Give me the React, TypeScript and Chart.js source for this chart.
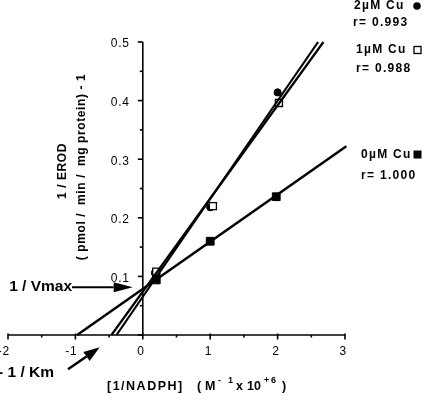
import React, { useEffect, useRef } from "react";
import { Chart, registerables } from "chart.js";

Chart.register(...registerables);

// ---- data ----
const cu0X = [0.2, 1.0, 1.98];
const cu0Y = [0.094, 0.16, 0.236];
const cu1X = [0.2, 1.04, 2.02];
const cu1Y = [0.108, 0.22, 0.396];
const cu2X = [0.18, 1.0, 2.0];
const cu2Y = [0.106, 0.218, 0.414];

// regression line end points
const fit0X = [-0.975, 3.02];
const fit0Y = [0, 0.322];
const fit1X = [-0.465, 2.68];
const fit1Y = [0, 0.5];
const fit2X = [-0.39, 2.6];
const fit2Y = [0, 0.5];

const seriesNames = ["2µM Cu", "1µM Cu", "0µM Cu"];
const rValues = ["r= 0.993", "r= 0.988", "r= 1.000"];

const xTickValues = [-2, -1, 0, 1, 2, 3];
const xTickLabels = ["-2", "-1", "0", "1", "2", "3"];
const yTickValues = [0.1, 0.2, 0.3, 0.4, 0.5];
const yTickLabels = ["0.1", "0.2", "0.3", "0.4", "0.5"];

const yTitle1 = "1 / EROD";
const yTitle2 = "( pmol /  min /  mg protein) - 1";
const vmaxLabel = "1 / Vmax";
const kmLabel = "- 1 / Km";
const xTitleMain = "[1/NADPH]";
// x-title unit pieces: text, superscript?
const xTitleUnit: [string, boolean][] = [
  ["(", false],
  ["M", false],
  ["-", true],
  ["1", true],
  ["x", false],
  ["1", false],
  ["0", false],
  ["+", true],
  ["6", true],
  [")", false],
];

// annotation anchors (data coordinates)
const vmaxArrowFrom = { x: -1.05, y: 0.0815 };
const vmaxArrowTo = { x: -0.15, y: 0.0815 };
const kmArrowFrom = { x: -1.11, y: -0.0586 };
const kmArrowTo = { x: -0.64, y: -0.021 };

const FONT = '"Liberation Sans", Arial, Helvetica, sans-serif';

const pts = (xs: number[], ys: number[]) => xs.map((v, i) => ({ x: v, y: ys[i] }));

function arrow(ctx: CanvasRenderingContext2D, x1: number, y1: number, x2: number, y2: number, headLen: number, headHalf: number, lw: number) {
  const ang = Math.atan2(y2 - y1, x2 - x1);
  const bx = x2 - headLen * Math.cos(ang);
  const by = y2 - headLen * Math.sin(ang);
  ctx.lineWidth = lw;
  ctx.beginPath();
  ctx.moveTo(x1, y1);
  ctx.lineTo(bx, by);
  ctx.stroke();
  ctx.beginPath();
  ctx.moveTo(x2, y2);
  ctx.lineTo(bx + headHalf * Math.sin(ang), by - headHalf * Math.cos(ang));
  ctx.lineTo(bx - headHalf * Math.sin(ang), by + headHalf * Math.cos(ang));
  ctx.closePath();
  ctx.fill();
}

const drawPlugin = {
  id: "lwbAxes",
  beforeDatasetsDraw(chart: any) {
    const { ctx } = chart;
    const xs = chart.scales.x;
    const ys = chart.scales.y;
    const x0 = xs.getPixelForValue(0);
    const y0 = ys.getPixelForValue(0);
    ctx.save();
    ctx.strokeStyle = "#000";
    ctx.fillStyle = "#000";
    ctx.lineWidth = 1.6;
    // y axis
    ctx.beginPath();
    ctx.moveTo(x0, y0);
    ctx.lineTo(x0, ys.getPixelForValue(0.5));
    ctx.stroke();
    for (let i = 0; i <= 10; i++) {
      const py = ys.getPixelForValue(i * 0.05);
      const major = i % 2 === 0;
      ctx.beginPath();
      ctx.moveTo(x0 - (major ? 5 : 3), py);
      ctx.lineTo(x0, py);
      ctx.stroke();
    }
    // x axis
    ctx.beginPath();
    ctx.moveTo(xs.getPixelForValue(-2), y0);
    ctx.lineTo(xs.getPixelForValue(3), y0);
    ctx.stroke();
    for (let i = 0; i <= 10; i++) {
      const px = xs.getPixelForValue(-2 + i * 0.5);
      const major = i % 2 === 0;
      ctx.beginPath();
      ctx.moveTo(px, y0 - (major ? 1.5 : 0));
      ctx.lineTo(px, y0 + (major ? 4.5 : 2.5));
      ctx.stroke();
    }
    // tick labels
    ctx.font = `12px ${FONT}`;
    (ctx as any).letterSpacing = "0.8px";
    ctx.textBaseline = "middle";
    ctx.textAlign = "right";
    yTickValues.forEach((v, i) => {
      ctx.fillText(yTickLabels[i], x0 - 13, ys.getPixelForValue(v) + 2);
    });
    xTickValues.forEach((v, i) => {
      ctx.fillText(xTickLabels[i], xs.getPixelForValue(v) + 2, y0 + 17);
    });
    ctx.restore();
  },
  afterDraw(chart: any) {
    const { ctx } = chart;
    const xs = chart.scales.x;
    const ys = chart.scales.y;
    ctx.save();
    ctx.fillStyle = "#000";
    ctx.strokeStyle = "#000";
    ctx.textBaseline = "middle";

    // y title (rotated)
    ctx.font = `bold 12px ${FONT}`;
    (ctx as any).letterSpacing = "0.6px";
    ctx.textAlign = "center";
    ctx.save();
    ctx.translate(63, 171);
    ctx.rotate(-Math.PI / 2);
    ctx.fillText(yTitle1, 0, 0);
    ctx.restore();
    ctx.save();
    ctx.translate(82, 167);
    ctx.rotate(-Math.PI / 2);
    ctx.fillText(yTitle2, 0, 0);
    ctx.restore();

    // x title with superscripts
    ctx.textAlign = "left";
    ctx.font = `bold 12.5px ${FONT}`;
    (ctx as any).letterSpacing = "1.5px";
    const by = 387;
    ctx.fillText(xTitleMain, 107, by);
    (ctx as any).letterSpacing = "0px";
    const unitX = [197, 205, 218, 228, 236, 247, 254, 264, 271, 282];
    xTitleUnit.forEach(([t, sup], i) => {
      ctx.font = sup ? `bold 9px ${FONT}` : `bold 12.5px ${FONT}`;
      ctx.fillText(t, unitX[i], sup ? by - 6 : by);
    });

    // legend texts
    ctx.font = `bold 12px ${FONT}`;
    (ctx as any).letterSpacing = "1.3px";
    const legendPos = [
      { x: 354, y: 6, ry: 23, rx: 353 },
      { x: 356, y: 50, ry: 69, rx: 356 },
      { x: 361, y: 155, ry: 176, rx: 361 },
    ];
    legendPos.forEach((p, i) => {
      ctx.fillText(seriesNames[i], p.x, p.y);
      ctx.fillText(rValues[i], p.rx, p.ry);
    });
    // legend markers
    ctx.beginPath();
    ctx.arc(417, 6, 3.8, 0, Math.PI * 2);
    ctx.fill();
    ctx.lineWidth = 1.3;
    ctx.fillStyle = "#fff";
    ctx.fillRect(414, 46.5, 7, 7);
    ctx.strokeRect(414, 46.5, 7, 7);
    ctx.fillStyle = "#000";
    ctx.fillRect(413.5, 150.5, 8, 8);

    // annotations
    const vx1 = xs.getPixelForValue(vmaxArrowFrom.x);
    const vy1 = ys.getPixelForValue(vmaxArrowFrom.y);
    const vx2 = xs.getPixelForValue(vmaxArrowTo.x);
    const vy2 = ys.getPixelForValue(vmaxArrowTo.y);
    arrow(ctx, vx1, vy1, vx2, vy2, 19, 5, 2);
    const kx1 = xs.getPixelForValue(kmArrowFrom.x);
    const ky1 = ys.getPixelForValue(kmArrowFrom.y);
    const kx2 = xs.getPixelForValue(kmArrowTo.x);
    const ky2 = ys.getPixelForValue(kmArrowTo.y);
    arrow(ctx, kx1, ky1, kx2, ky2, 16, 5.5, 2.5);

    ctx.font = `bold 15.5px ${FONT}`;
    (ctx as any).letterSpacing = "0px";
    ctx.textAlign = "right";
    ctx.fillText(vmaxLabel, vx1, vy1 - 1);
    ctx.fillText(kmLabel, kx1 - 14, ky1 + 3);
    ctx.restore();
  },
};

export default function App() {
  const ref = useRef<HTMLCanvasElement | null>(null);
  useEffect(() => {
    document.body.style.margin = "0";
    const canvas = ref.current;
    if (!canvas) return;
    const lineDs = (xsArr: number[], ysArr: number[], w: number) => ({
      data: pts(xsArr, ysArr),
      showLine: true,
      borderColor: "#000",
      borderWidth: w,
      pointRadius: 0,
      clip: false as any,
    });
    const chart = new Chart(canvas, {
      type: "scatter",
      data: {
        datasets: [
          lineDs(fit0X, fit0Y, 2.5),
          lineDs(fit1X, fit1Y, 2.2),
          lineDs(fit2X, fit2Y, 2.2),
          {
            data: pts(cu0X, cu0Y),
            pointStyle: "rect",
            pointRadius: 5.5,
            backgroundColor: "#000",
            borderColor: "#000",
            borderWidth: 1,
            clip: false as any,
          },
          {
            data: pts(cu1X, cu1Y),
            pointStyle: "rect",
            pointRadius: 5,
            backgroundColor: "#fff",
            borderColor: "#000",
            borderWidth: 1.3,
            clip: false as any,
          },
          {
            data: pts(cu2X, cu2Y),
            pointStyle: "circle",
            pointRadius: 3.6,
            backgroundColor: "#000",
            borderColor: "#000",
            borderWidth: 1,
            clip: false as any,
          },
        ],
      },
      options: {
        animation: false,
        responsive: false,
        devicePixelRatio: 1,
        layout: { padding: { left: 8, right: 78, top: 42, bottom: 59 } },
        scales: {
          x: { type: "linear", min: -2, max: 3, display: false },
          y: { type: "linear", min: 0, max: 0.5, display: false },
        },
        plugins: { legend: { display: false }, tooltip: { enabled: false } },
      },
      plugins: [drawPlugin as any],
    });
    return () => chart.destroy();
  }, []);
  return (
    <div style={{ position: "absolute", left: 0, top: 0, width: 423, height: 394, background: "#fff" }}>
      <canvas ref={ref} width={423} height={394} style={{ display: "block" }} />
    </div>
  );
}
